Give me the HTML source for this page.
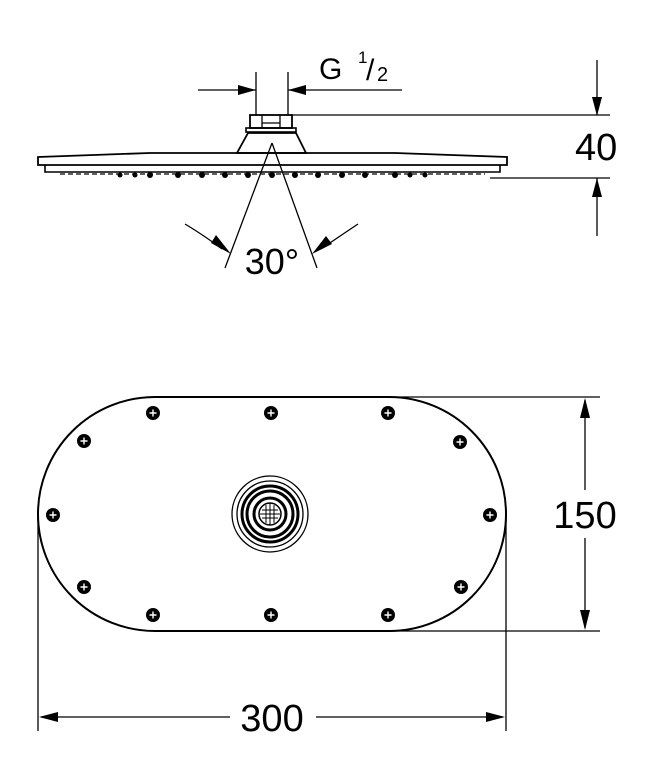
<!DOCTYPE html>
<html><head><meta charset="utf-8"><style>
html,body{margin:0;padding:0;background:#fff;}
svg{display:block;}
text{font-family:"Liberation Sans",sans-serif;fill:#000;}
</style></head><body>
<svg width="649" height="765" viewBox="0 0 649 765" xmlns="http://www.w3.org/2000/svg">
<defs>
<g id="scr"><circle r="7" fill="#000"/><path d="M-3.5 0H3.5M0 -3.5V3.5" stroke="#fff" stroke-width="1.4"/></g>
</defs>
<g stroke="#000" fill="none" stroke-width="1.3">
<line x1="198" y1="90" x2="256" y2="90"/>
<line x1="288" y1="90" x2="402" y2="90"/>
<line x1="256" y1="72" x2="256" y2="115"/>
<line x1="288" y1="72" x2="288" y2="115"/>
<line x1="292" y1="115" x2="610" y2="115"/>
<line x1="490" y1="178" x2="610" y2="178"/>
<line x1="597" y1="60" x2="597" y2="115"/>
<line x1="597" y1="178" x2="597" y2="236"/>
<rect x="250" y="115" width="42" height="13" stroke-width="1.8"/>
<line x1="262" y1="115" x2="262" y2="128"/><line x1="280" y1="115" x2="280" y2="128"/>
<line x1="262" y1="123" x2="280" y2="123"/>
<rect x="246" y="128" width="50" height="4" stroke-width="1.6"/>
<path d="M248 133 L296 133 L306 153 L237 153 Z" stroke-width="1.8"/>
<path d="M38 157 L150 153 L395 153 L507 157 L507 165 L38 165 Z" stroke-width="1.8"/>
<path d="M45 165 L45 172 L500 172 L500 165" stroke-width="1.6"/>
<line x1="60" y1="174" x2="485" y2="174" stroke-width="1.2" stroke-dasharray="5 3"/>
<line x1="272" y1="143" x2="225" y2="268"/>
<line x1="272" y1="143" x2="317" y2="268"/>
<path d="M185 224 Q205 236 222 249"/>
<path d="M358 224 Q340 236 321 249"/>
<path d="M155 397 L389 397 A117 117 0 0 1 389 631 L155 631 A117 117 0 0 1 155 397 Z" stroke-width="2"/>
<line x1="389" y1="397" x2="600" y2="397"/>
<line x1="389" y1="631" x2="600" y2="631"/>
<line x1="585" y1="400" x2="585" y2="490"/>
<line x1="585" y1="538" x2="585" y2="628"/>
<line x1="38" y1="514" x2="38" y2="731"/>
<line x1="506" y1="514" x2="506" y2="731"/>
<line x1="41" y1="717" x2="230" y2="717"/>
<line x1="316" y1="717" x2="503" y2="717"/>
<circle cx="270" cy="514" r="38" stroke-width="1.3"/>
<circle cx="270" cy="514" r="33" stroke-width="1.3"/>
<circle cx="270" cy="514" r="28" stroke-width="3"/>
<circle cx="270" cy="514" r="23" stroke-width="3"/>
<circle cx="270" cy="514" r="16" stroke-width="3"/>
<circle cx="270" cy="514" r="11" stroke-width="1.5"/>
<path d="M262 510H278M260 514H280M262 518H278M266 505V523M270 503V525M274 505V523" stroke-width="1"/>
</g>
<g fill="#000">
<circle cx="178" cy="175" r="3"/><circle cx="202" cy="175" r="3"/><circle cx="225" cy="175" r="3"/><circle cx="248" cy="175" r="3"/><circle cx="272" cy="175" r="3"/><circle cx="295" cy="175" r="3"/><circle cx="318" cy="175" r="3"/><circle cx="342" cy="175" r="3"/><circle cx="365" cy="175" r="3"/>
<circle cx="120" cy="175" r="2.5"/><circle cx="135" cy="175" r="2.5"/><circle cx="150" cy="175" r="3"/><circle cx="395" cy="175" r="3"/><circle cx="410" cy="175" r="2.5"/><circle cx="425" cy="175" r="2.5"/>
<path d="M256 90 L238 85 L238 95 Z"/>
<path d="M288 90 L306 85 L306 95 Z"/>
<path d="M597 116 L592 97 L602 97 Z"/>
<path d="M597 178 L592 197 L602 197 Z"/>
<path d="M231 254 L211 243 L216 235 Z"/>
<path d="M312 254 L326 236 L332 244 Z"/>
<path d="M585 398 L580 418 L590 418 Z"/>
<path d="M585 630 L580 610 L590 610 Z"/>
<path d="M39 717 L58 712 L58 722 Z"/>
<path d="M505 717 L486 712 L486 722 Z"/>
</g>
<use href="#scr" x="153" y="413"/><use href="#scr" x="271" y="413"/><use href="#scr" x="388" y="413"/>
<use href="#scr" x="84" y="441"/><use href="#scr" x="460" y="442"/>
<use href="#scr" x="53" y="515"/><use href="#scr" x="490" y="515"/>
<use href="#scr" x="84" y="587"/><use href="#scr" x="461" y="587"/>
<use href="#scr" x="153" y="615"/><use href="#scr" x="271" y="615"/><use href="#scr" x="388" y="615"/>
<text x="319" y="79" font-size="30">G</text>
<text x="358" y="63" font-size="17">1</text>
<text x="366" y="80" font-size="30">/</text>
<text x="377" y="81" font-size="20">2</text>
<text x="575" y="160" font-size="38">40</text>
<text x="272" y="274" font-size="36" text-anchor="middle">30°</text>
<text x="585" y="528" font-size="38" text-anchor="middle">150</text>
<text x="272" y="731" font-size="38" text-anchor="middle">300</text>
</svg>
</body></html>
